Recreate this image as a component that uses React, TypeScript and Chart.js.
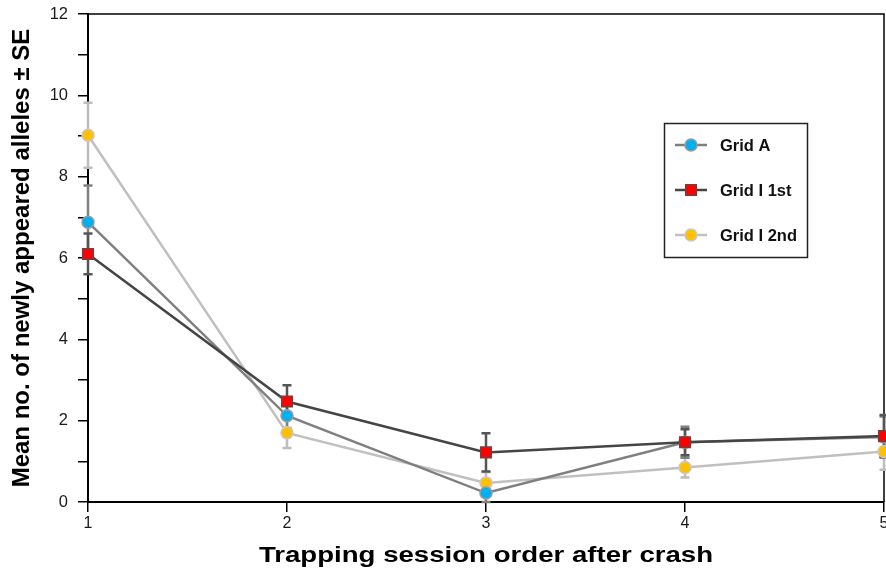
import React, { useEffect, useRef } from "react";
import { Chart, registerables } from "chart.js";

Chart.register(...registerables);

const sessions = [1, 2, 3, 4, 5];
const yTicks = [0, 2, 4, 6, 8, 10, 12];

const seriesNames = ["Grid A", "Grid I 1st", "Grid I 2nd"];
const gridA = [6.88, 2.12, 0.22, 1.47, 1.6];
const gridASE = [0.9, 0.3, 0.22, 0.38, 0.5];
const gridI1 = [6.1, 2.47, 1.22, 1.47, 1.62];
const gridI1SE = [0.5, 0.4, 0.47, 0.32, 0.52];
const gridI2 = [9.02, 1.7, 0.47, 0.85, 1.24];
const gridI2SE = [0.8, 0.37, 0.27, 0.25, 0.45];

const xTitle = "Trapping session order after crash";
const yTitle = "Mean no. of newly appeared alleles \u00b1 SE";

const styles = [
  { line: "#7f7f7f", err: "#808080", fill: "#00b0f0", border: "#9a9a9a", shape: "circle", r: 6, order: 1 },
  { line: "#454545", err: "#555555", fill: "#ff0000", border: "#7a3c3c", shape: "rect", r: 7.5, order: 0 },
  { line: "#c0c0c0", err: "#bdbdbd", fill: "#ffc000", border: "#c8c8c8", shape: "circle", r: 6, order: 2 },
];

const values = [gridA, gridI1, gridI2];
const errors = [gridASE, gridI1SE, gridI2SE];

const errorBarPlugin = {
  id: "errorBars",
  beforeDatasetsDraw(chart: any) {
    const { ctx, chartArea, scales } = chart;
    ctx.save();
    ctx.strokeStyle = "#000";
    ctx.lineWidth = 1.5;
    ctx.beginPath();
    ctx.moveTo(chartArea.left, chartArea.top);
    ctx.lineTo(chartArea.right, chartArea.top);
    ctx.lineTo(chartArea.right, chartArea.bottom);
    ctx.stroke();
    ctx.restore();

    const xs = scales.x;
    const ys = scales.y;
    const drawOrder = [2, 0, 1];
    drawOrder.forEach((s) => {
      ctx.save();
      ctx.strokeStyle = styles[s].err;
      ctx.lineWidth = 2.5;
      sessions.forEach((sess, i) => {
        const v = values[s][i];
        const e = errors[s][i];
        const px = xs.getPixelForValue(sess);
        const top = ys.getPixelForValue(v + e);
        const bot = ys.getPixelForValue(Math.max(0, v - e));
        ctx.beginPath();
        ctx.moveTo(px, top);
        ctx.lineTo(px, bot);
        ctx.moveTo(px - 4.5, top);
        ctx.lineTo(px + 4.5, top);
        ctx.moveTo(px - 4.5, bot);
        ctx.lineTo(px + 4.5, bot);
        ctx.stroke();
      });
      ctx.restore();
    });
  },
  afterDraw(chart: any) {
    const { ctx, chartArea } = chart;
    ctx.save();
    ctx.strokeStyle = "#222";
    ctx.lineWidth = 1.5;
    ctx.strokeRect(664.5, 123.5, 143, 134);
    const rows = [145, 190, 235];
    seriesNames.forEach((name, i) => {
      const y = rows[i];
      const st = styles[i];
      ctx.strokeStyle = st.line;
      ctx.lineWidth = 2.5;
      ctx.beginPath();
      ctx.moveTo(675, y);
      ctx.lineTo(707, y);
      ctx.stroke();
      ctx.fillStyle = st.fill;
      ctx.strokeStyle = st.border;
      ctx.lineWidth = 1.5;
      ctx.beginPath();
      if (st.shape === "rect") {
        ctx.rect(691 - 5.3, y - 5.3, 10.6, 10.6);
      } else {
        ctx.arc(691, y, 6, 0, Math.PI * 2);
      }
      ctx.fill();
      ctx.stroke();
      ctx.fillStyle = "#111";
      ctx.font = "bold 16.5px 'Liberation Sans', Arial, sans-serif";
      ctx.textAlign = "left";
      ctx.textBaseline = "middle";
      ctx.fillText(name, 720, y + 1);
    });
    ctx.fillStyle = "#000";
    ctx.font = "bold 22px 'Liberation Sans', Arial, sans-serif";
    ctx.textAlign = "center";
    ctx.textBaseline = "alphabetic";
    const cx = (chartArea.left + chartArea.right) / 2;
    ctx.translate(cx, 562);
    ctx.scale(1.255, 1);
    ctx.fillText(xTitle, 0, 0);
    ctx.restore();
  },
};

export default function App() {
  const ref = useRef<HTMLCanvasElement>(null);
  useEffect(() => {
    const chart = new Chart(ref.current as HTMLCanvasElement, {
      type: "line",
      data: {
        datasets: seriesNames.map((name, s) => ({
          label: name,
          data: sessions.map((x, i) => ({ x, y: values[s][i] })),
          order: styles[s].order,
          borderColor: styles[s].line,
          borderWidth: 2.5,
          backgroundColor: styles[s].fill,
          pointBackgroundColor: styles[s].fill,
          pointBorderColor: styles[s].border,
          pointBorderWidth: 1.5,
          pointRadius: styles[s].r,
          pointStyle: styles[s].shape as any,
          tension: 0,
          clip: false as any,
        })),
      },
      options: {
        responsive: false,
        animation: false,
        events: [],
        layout: { autoPadding: false, padding: { top: 14, right: 2, left: 0, bottom: 0 } },
        plugins: { legend: { display: false }, tooltip: { enabled: false } },
        scales: {
          x: {
            type: "linear",
            min: 1,
            max: 5,
            afterFit(scale: any) {
              scale.height = 67;
              scale.paddingLeft = 0;
              scale.paddingRight = 0;
            },
            ticks: {
              stepSize: 1,
              padding: 2,
              color: "#1a1a1a",
              font: { size: 16, family: "'Liberation Sans', Arial, sans-serif" },
              maxRotation: 0,
            },
            grid: { drawOnChartArea: false, drawTicks: true, tickLength: 10, color: "#000", lineWidth: 1.5 },
            border: { color: "#000", width: 2 },
          },
          y: {
            type: "linear",
            min: 0,
            max: 12,
            afterFit(scale: any) {
              scale.width = 88;
              scale.paddingTop = 0;
              scale.paddingBottom = 0;
            },
            ticks: {
              stepSize: 1,
              padding: 10,
              color: "#1a1a1a",
              font: { size: 16.5, family: "'Liberation Sans', Arial, sans-serif" },
              callback: (v: any) => (yTicks.includes(Number(v)) ? String(v) : ""),
            },
            grid: { drawOnChartArea: false, drawTicks: true, tickLength: 10, color: "#000", lineWidth: 1.5 },
            border: { color: "#000", width: 2 },
            title: {
              display: true,
              text: yTitle,
              color: "#000",
              font: { size: 24, weight: "bold", family: "'Liberation Sans', Arial, sans-serif" },
              padding: { top: 8, bottom: 0 },
            },
          },
        },
      },
      plugins: [errorBarPlugin],
    });
    return () => chart.destroy();
  }, []);
  return (
    <div style={{ position: "fixed", left: 0, top: 0, width: 886, height: 569, background: "#fff" }}>
      <canvas ref={ref} width={886} height={569} style={{ display: "block" }} />
    </div>
  );
}
